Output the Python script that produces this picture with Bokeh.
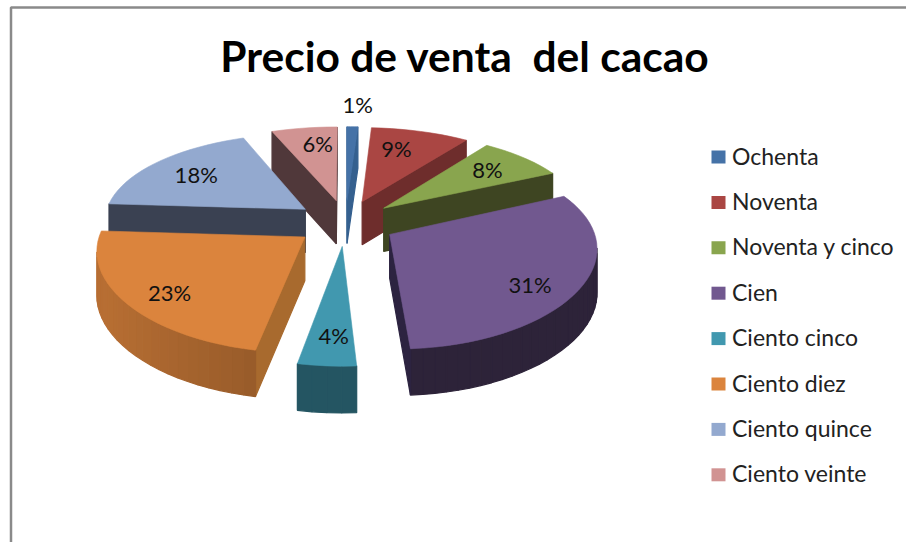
import math
from bokeh.plotting import figure
from bokeh.models import ColumnDataSource
from bokeh.core.properties import value
from bokeh.embed import file_html
from bokeh.resources import INLINE
import numpy as np

# Data
title = "Precio de venta \u00a0del cacao"
categories = ["Ochenta", "Noventa", "Noventa y cinco", "Cien",
              "Ciento cinco", "Ciento diez", "Ciento quince", "Ciento veinte"]
percent = [1, 9, 8, 31, 4, 23, 18, 6]

# Styles
top_colors = ["#4572A7", "#AA4643", "#89A54E", "#71588F", "#4198AF", "#DB843D", "#93A9CF", "#D19392"]
wall_colors = ["#35608F", "#6E2D2C", "#3E4522", "#2C2340", "#25596A", "#A86A2E", "#3A4152", "#50383A"]
rim_factor_left = [0.72, 0.63, 0.50, 0.40, 0.56, 0.84, 0.42, 0.40]
rim_factor_right = [0.72, 0.63, 0.50, 0.40, 0.56, 0.62, 0.42, 0.40]
label_offsets = [(7, -46), (-5, -5), (11, -5), (19, 17), (1, 16), (-22, 14), (-11, -3), (3, -8)]

W, H = 906, 542
CX, CY, RX, RY, PERSP, PERSP_X, DEPTH, EXPLODE = 345, 222, 202, 92, 0.16, 0.12, 43.5, 0.25
FONT = "Lato"


def project(u, v):
    s = 1 / (1 + PERSP * v)
    return CX + RX * u / (1 + PERSP_X * v), CY - RY * v * s, s


def drop(s):
    return DEPTH * (1 + 0.3 * (s - 1))


def shade(color, f):
    r, g, b = (int(color[i:i + 2], 16) for i in (1, 3, 5))
    return "#%02x%02x%02x" % (int(r * f), int(g * f), int(b * f))


p = figure(width=W, height=H, x_range=(0, W), y_range=(H, 0), output_backend="svg",
           toolbar_location=None, min_border=0, outline_line_color=None,
           background_fill_color="white", border_fill_color="white")
p.axis.visible = False
p.grid.visible = False

# frame of the pasted picture
p.line([10.5, 10.5, W], [H, 7, 7], line_color="#8a8a8a", line_width=2.5)

total = sum(percent)
cum = np.cumsum([0] + percent) / total * 2 * math.pi
order = sorted(range(len(percent)), key=lambda i: -math.cos((cum[i] + cum[i + 1]) / 2))

for i in order:
    a0, a1 = cum[i], cum[i + 1]
    mid = (a0 + a1) / 2
    eu, ev = EXPLODE * math.sin(mid), EXPLODE * math.cos(mid)
    n = max(3, int((a1 - a0) / math.radians(3)))
    ang = np.linspace(a0, a1, n + 1)
    outline = [(eu, ev)] + [(eu + math.sin(t), ev + math.cos(t)) for t in ang] + [(eu, ev)]
    pts = [project(u, v) for u, v in outline]
    xs, ys, cols = [], [], []
    # side faces whose screen edge runs right to left face the viewer
    for j in range(len(pts) - 1):
        (x0, y0, s0), (x1, y1, s1) = pts[j], pts[j + 1]
        if x1 >= x0:
            continue
        xs.append([x0, x1, x1, x0])
        ys.append([y0, y1, y1 + drop(s1), y0 + drop(s0)])
        if j == 0 or j == len(pts) - 2:
            cols.append(wall_colors[i])
        else:
            um = (outline[j][0] + outline[j + 1][0]) / 2
            f = np.interp(um, [-1.1, 0.0], [rim_factor_left[i], rim_factor_right[i]])
            cols.append(shade(top_colors[i], f))
    if xs:
        p.patches(xs="xs", ys="ys", fill_color="c", line_color="c", line_width=1.2,
                  source=ColumnDataSource(dict(xs=xs, ys=ys, c=cols)))
    p.patch([q[0] for q in pts], [q[1] for q in pts], fill_color=top_colors[i],
            line_color=top_colors[i], line_width=0.6)

# data labels
lx, ly, lt, ox, oy = [], [], [], [], []
for i, pc in enumerate(percent):
    mid = (cum[i] + cum[i + 1]) / 2
    x, y, _ = project(0.9 * math.sin(mid), 0.9 * math.cos(mid))
    lx.append(x); ly.append(y); lt.append(f"{pc}%")
    ox.append(label_offsets[i][0]); oy.append(label_offsets[i][1])
p.text(x="x", y="y", text="t", x_offset="ox", y_offset="oy",
       source=ColumnDataSource(dict(x=lx, y=ly, t=lt, ox=ox, oy=oy)),
       text_font=value(FONT), text_font_size="22px", text_color="#111111",
       text_align="center", text_baseline="middle")

# title
p.text(x=[464.5], y=[54.5], text=[title], text_font=value(FONT), text_font_size="42.5px",
       text_font_style="bold", text_color="#000000", text_align="center", text_baseline="middle")

# legend
ly0, lstep = 156.5, 45.4
ypos = [ly0 + k * lstep for k in range(len(categories))]
p.rect(x=[718] * len(categories), y=ypos, width=14, height=13, fill_color=top_colors, line_color=None)
p.text(x=[731.5] * len(categories), y=[y - 1.5 for y in ypos], text=categories, text_font=value(FONT),
       text_font_size="23px", text_color="#222222", text_align="left", text_baseline="middle")

open("out.html", "w").write(file_html(p, INLINE))
